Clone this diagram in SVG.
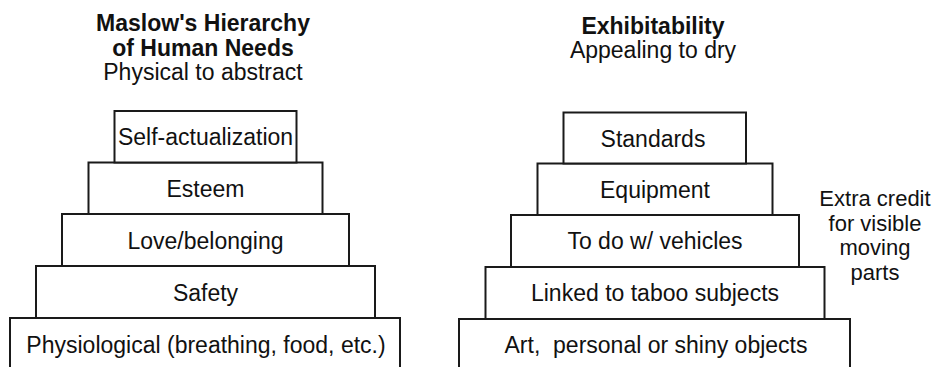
<svg xmlns="http://www.w3.org/2000/svg" width="943" height="367" viewBox="0 0 943 367">
<style>
  text { font-family: "Liberation Sans", Arial, Helvetica, sans-serif; fill: #111; text-anchor: middle; }
  .t { font-size: 23px; }
  .b { font-size: 23px; font-weight: bold; }
  .n { font-size: 22px; }
  rect { fill: #fff; stroke: #1a1a1a; stroke-width: 2; }
</style>
<rect x="0" y="0" width="943" height="367" fill="#fff" stroke="none" style="stroke:none"/>

<g id="title-left">
  <text class="b" x="203" y="31">Maslow's Hierarchy</text>
  <text class="b" x="203" y="55.5">of Human Needs</text>
  <text class="t" x="203" y="80">Physical to abstract</text>
</g>
<g id="title-right">
  <text class="b" x="653" y="33.5">Exhibitability</text>
  <text class="t" x="653" y="57.5">Appealing to dry</text>
</g>

<g id="maslow-physiological">
  <rect x="10" y="318" width="390" height="70"/>
  <text class="t" x="206" y="352.5">Physiological (breathing, food, etc.)</text>
</g>
<g id="maslow-safety">
  <rect x="36" y="266" width="339" height="52"/>
  <text class="t" x="205.5" y="300.5">Safety</text>
</g>
<g id="maslow-love">
  <rect x="62" y="214" width="287" height="52"/>
  <text class="t" x="205.5" y="248.5">Love/belonging</text>
</g>
<g id="maslow-esteem">
  <rect x="88.5" y="162.5" width="234" height="51.5"/>
  <text class="t" x="205.5" y="196.5">Esteem</text>
</g>
<g id="maslow-self">
  <rect x="114.5" y="111" width="182" height="51.5"/>
  <text class="t" x="205.5" y="145">Self-actualization</text>
</g>

<g id="exhib-art">
  <rect x="459" y="319" width="391" height="70"/>
  <text class="t" x="656" y="353" xml:space="preserve">Art,  personal or shiny objects</text>
</g>
<g id="exhib-linked">
  <rect x="485.5" y="267" width="339" height="52"/>
  <text class="t" x="655" y="301">Linked to taboo subjects</text>
</g>
<g id="exhib-vehicles">
  <rect x="511" y="215" width="288" height="52"/>
  <text class="t" x="655" y="249">To do w/ vehicles</text>
</g>
<g id="exhib-equipment">
  <rect x="537.5" y="163.5" width="235" height="51.5"/>
  <text class="t" x="655" y="198">Equipment</text>
</g>
<g id="exhib-standards">
  <rect x="563.5" y="112.5" width="182.5" height="51"/>
  <text class="t" x="653" y="146.5">Standards</text>
</g>

<g id="note-extra-credit">
  <text class="n" x="875" y="206">Extra credit</text>
  <text class="n" x="875" y="230.5">for visible</text>
  <text class="n" x="875" y="255">moving</text>
  <text class="n" x="875" y="279.5">parts</text>
</g>

<g id="connectors"></g>
</svg>
